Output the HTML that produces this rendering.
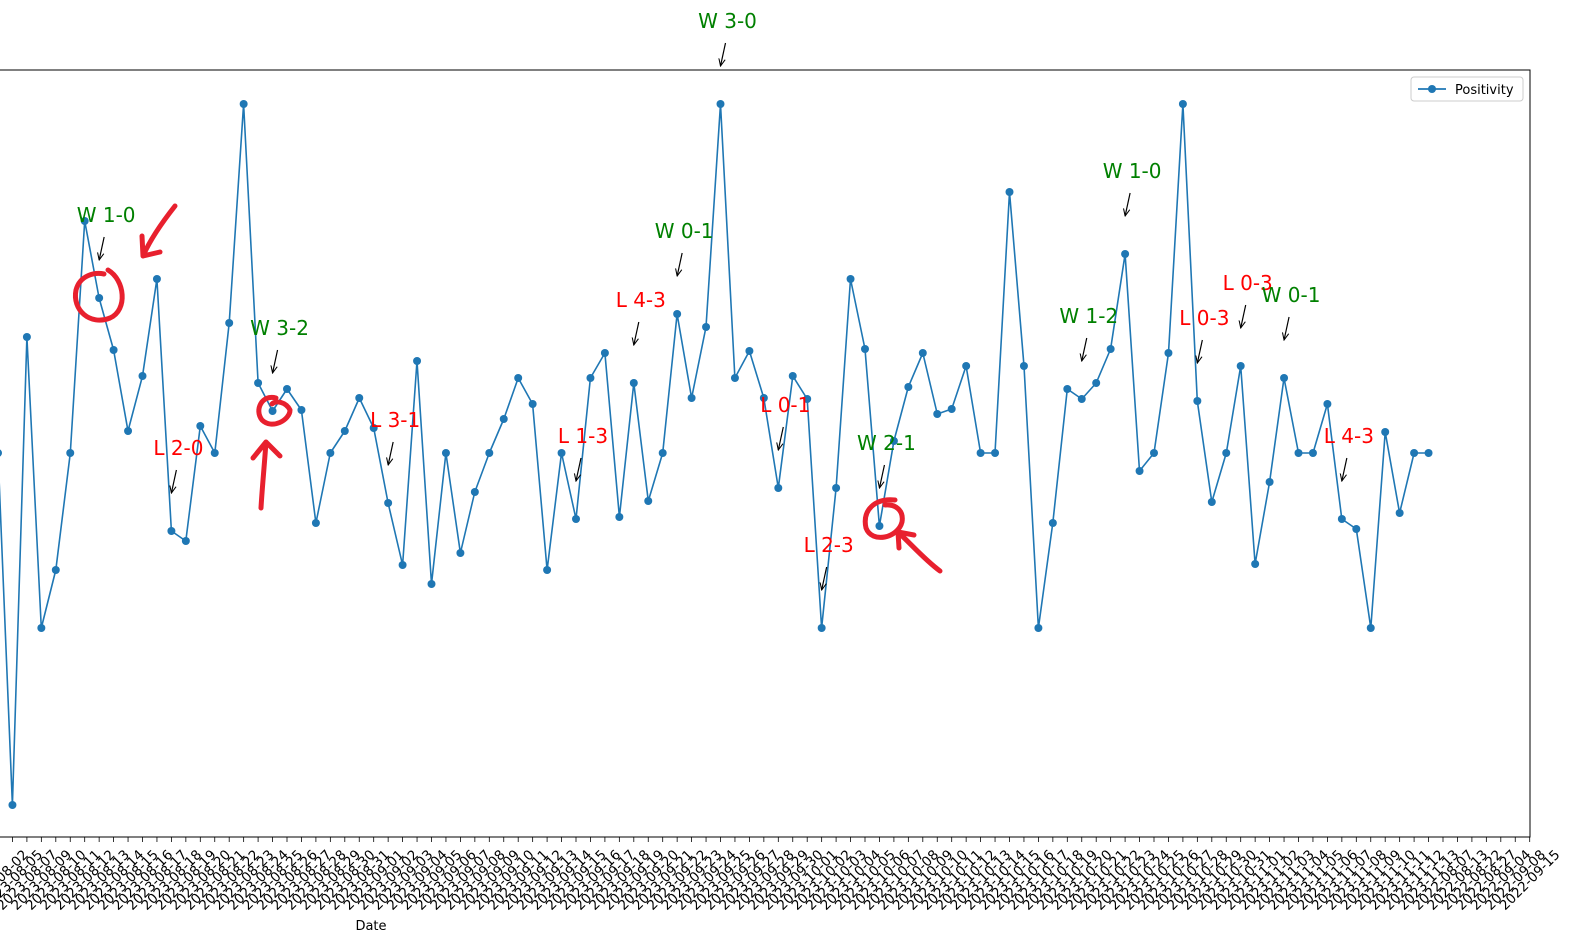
<!DOCTYPE html>
<html><head><meta charset="utf-8">
<style>
html,body{margin:0;padding:0;background:#fff;}
svg{display:block;font-family:"DejaVu Sans","Liberation Sans",sans-serif;}
</style></head>
<body>
<svg id="chart" width="1573" height="946" viewBox="0 0 1573 946" xmlns="http://www.w3.org/2000/svg">
<defs>
<marker id="ah" viewBox="0 0 10 10" refX="9" refY="5" markerWidth="8" markerHeight="8" orient="auto-start-reverse" markerUnits="userSpaceOnUse"><path d="M0,1 L9,5 L0,9" fill="none" stroke="#000" stroke-width="1.3"/></marker>
</defs>
<g id="ticks"></g>
<g id="series"></g>
<g id="annots"></g>
<rect x="-5" y="70" width="1535" height="767" fill="none" stroke="#000" stroke-width="1"/>
<text x="371" y="930" font-size="13" text-anchor="middle">Date</text>
<g>
<rect x="1411" y="77" width="112" height="24" rx="3" fill="#fff" stroke="#ccc"/>
<line x1="1418" y1="89" x2="1446" y2="89" stroke="#1f77b4" stroke-width="1.8"/>
<circle cx="1432" cy="89" r="4" fill="#1f77b4"/>
<text x="1455" y="94" font-size="13">Positivity</text>
</g>
<g fill="none" stroke="#e8202e" stroke-width="5" stroke-linecap="round" stroke-linejoin="round">
<path d="M108,270 C125,280 128,310 110,318 C90,326 72,310 76,290 C80,275 95,272 104,274"/>
<path d="M175,206 C160,225 150,240 143,256 M143,256 L142,236 M143,256 L160,252"/>
<path d="M276,398 C262,394 254,410 262,420 C272,430 290,420 290,410 C286,402 276,400 272,404"/>
<path d="M261,508 C262,490 264,470 266,442 M266,442 L253,458 M266,442 L280,456"/>
<path d="M895,500 C875,498 862,510 866,528 C872,544 898,538 902,522 C904,510 895,504 885,505"/>
<path d="M940,571 C925,560 912,545 898,532 M898,532 L899,548 M898,532 L914,535"/>
</g>
</svg>
<script>
const dateLabels = ["2023-08-02","2023-08-05","2023-08-07","2023-08-09"];
const extraLabels = ["2022-08-07","2022-08-13","2022-08-22","2022-08-27","2022-09-04","2022-09-08","2022-09-15"];
const positivity = [384,32,500,209,267,384,616,539,487,406,461,558,306,296,411,384,514,733,454,426,448,427,314,384,406,439,409,334,272,476,253,384,284,345,384,418,459,433,267,384,318,459,484,320,454,336,384,523,439,510,733,459,486,439,349,461,438,209,349,558,488,311,396,450,484,423,428,471,384,384,645,471,209,314,448,438,454,488,583,366,384,484,733,436,335,384,471,273,355,459,384,384,433,318,308,209,405,324,384,384];
const annotTexts = ["W 1-0","L 2-0","W 3-2","L 3-1","L 1-3","L 4-3","W 0-1","W 3-0","L 0-1","L 2-3","W 2-1","W 1-2","W 1-0","L 0-3","L 0-3","W 0-1","L 4-3"];
const annotIdx = [7,12,19,27,40,44,47,50,54,57,61,75,78,83,86,89,93];

const allLabels = dateLabels.slice();
(function(){let d=new Date(Date.UTC(2023,7,10));while(allLabels.length<positivity.length){allLabels.push(d.toISOString().slice(0,10));d.setUTCDate(d.getUTCDate()+1);}})();
extraLabels.forEach(l=>allLabels.push(l));

const X0=-2, DX=14.45, YB=837, YT=70, VMAX=767;
const xs = i => X0 + i*DX;
const ys = v => YB - (v/VMAX)*(YB-YT);
const NS="http://www.w3.org/2000/svg";
function mk(tag,attrs,parent){const e=document.createElementNS(NS,tag);for(const k in attrs)e.setAttribute(k,attrs[k]);parent.appendChild(e);return e;}

const tg=document.getElementById('ticks');
allLabels.forEach((lab,i)=>{
  const x=xs(i);
  const t=mk('line',{x1:x,y1:837,x2:x,y2:842,stroke:'#000','stroke-width':0.8},tg);
  
  
  const cy=880;
  const tx=mk('text',{x:x,y:cy+4.5,'font-size':13.5,'text-anchor':'middle',transform:'rotate(-45 '+x+' '+cy+')'},tg);
  
  
  tx.textContent=lab;
});

const sg=document.getElementById('series');
const pts=positivity.map((v,i)=>xs(i).toFixed(1)+','+ys(v).toFixed(1)).join(' ');
const pl=mk('polyline',{points:pts,fill:'none',stroke:'#1f77b4','stroke-width':1.6,'stroke-linejoin':'round'},sg);


positivity.forEach((v,i)=>{
  const c=mk('circle',{cx:xs(i),cy:ys(v),r:4,fill:'#1f77b4'},sg);
  
  
});

const ag=document.getElementById('annots');
annotTexts.forEach((txt,k)=>{
  const i=annotIdx[k];
  const px=xs(i), py=ys(positivity[i]);
  const tipY=py-38;
  const col=txt[0]==='W'?'green':'red';
  const t=mk('text',{x:px+7,y:tipY-38,'font-size':20,'text-anchor':'middle',fill:col},ag);
  
  
  t.textContent=txt;
  const a=mk('line',{x1:px+5,y1:tipY-23,x2:px,y2:tipY,stroke:'#000','stroke-width':1.2,'marker-end':'url(#ah)'},ag);
  
  
});
</script>
</body></html>
